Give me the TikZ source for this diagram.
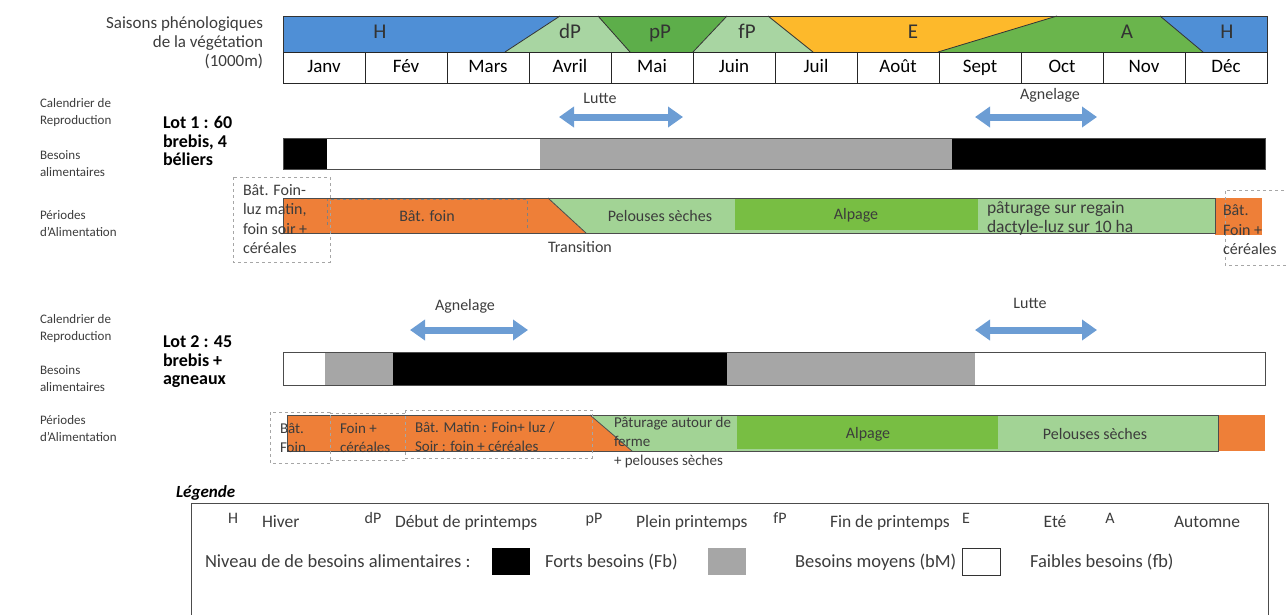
\documentclass[tikz,border=0pt]{standalone}
\usepackage{fontspec}
\setmainfont{Carlito}
\usetikzlibrary{positioning,arrows.meta}
\definecolor{hiver}{HTML}{4F8FD6}
\definecolor{printemps}{HTML}{A8D5A2}
\definecolor{pleinprint}{HTML}{5DAE4A}
\definecolor{ete}{HTML}{FDB92B}
\definecolor{automne}{HTML}{6AB54C}
\definecolor{moyens}{HTML}{A6A6A6}
\definecolor{foin}{HTML}{EE7F38}
\definecolor{pelouse}{HTML}{A2D395}
\definecolor{alpage}{HTML}{78BE43}
\definecolor{fleche}{HTML}{6C9DD4}
\definecolor{gristexte}{HTML}{3C3C3C}
\begin{document}
\begin{tikzpicture}[x=1pt, y=-1pt,
  every node/.style={inner sep=0pt, outer sep=0pt, text=gristexte},
  rowlabel/.style={font=\fontsize{13}{17}\selectfont, align=left, anchor=west},
  lotlabel/.style={font=\fontsize{18}{18.5}\selectfont\bfseries, align=left, anchor=west, text=black},
  month/.style={draw=black!85, line width=0.9pt, minimum width=82pt, minimum height=31pt,
    text height=13pt, text depth=4pt,
    font=\fontsize{19}{20}\selectfont, text=black, node distance=82pt},
  season/.style={font=\fontsize{21}{22}\selectfont, text=black!80, text height=14pt, text depth=4.5pt},
  sep/.style={draw=black!80, line width=0.8pt},
  need/.style={draw=black!70, line width=0.8pt},
  feedtext/.style={font=\fontsize{16}{19.5}\selectfont, align=left},
  smallfeed/.style={font=\fontsize{15}{19}\selectfont, align=left},
  dashbox/.style={draw=black!35, dashed, line width=0.6pt},
  period/.style={draw=fleche, line width=7pt, {Triangle[width=20pt,length=15pt]}-{Triangle[width=20pt,length=15pt]}},
  periodlabel/.style={font=\fontsize{16}{18}\selectfont},
  legtext/.style={font=\fontsize{17.5}{19}\selectfont, anchor=west, text height=12pt, text depth=4pt},
  levtext/.style={font=\fontsize{18.5}{20}\selectfont, anchor=west, text height=12.5pt, text depth=4pt},
  legsym/.style={font=\fontsize{16}{17}\selectfont, text height=11pt, text depth=3.5pt},
  legbox/.style={minimum width=38pt, minimum height=27pt, line width=0.9pt},
]
\useasboundingbox (0,0) rectangle (1287,614);

\fill[hiver] (283,16) -- (560,16) -- (505,52) -- (283,52) -- cycle;
\fill[printemps] (560,16) -- (598,16) -- (630,52) -- (505,52) -- cycle;
\fill[pleinprint] (598,16) -- (727,16) -- (693,52) -- (630,52) -- cycle;
\fill[printemps] (727,16) -- (768,16) -- (813,52) -- (693,52) -- cycle;
\fill[ete] (768,16) -- (1057,16) -- (938,52) -- (813,52) -- cycle;
\fill[automne] (1057,16) -- (1160,16) -- (1203,52) -- (938,52) -- cycle;
\fill[hiver] (1160,16) -- (1267,16) -- (1267,52) -- (1203,52) -- cycle;
\draw[sep] (505,52) -- (560,16) (598,16) -- (630,52) (727,16) -- (693,52)
  (768,16) -- (813,52) (938,52) -- (1057,16) (1160,16) -- (1203,52);
\draw[sep] (283,16) rectangle (1267,52);

\node[season] (sH1) at (380,34) {H};
\node[season] (sdP) at (570,34) {dP};
\node[season] (spP) at (660,34) {pP};
\node[season] (sfP) at (747,34) {fP};
\node[season] (sE) at (913,34) {E};
\node[season] (sA) at (1127,34) {A};
\node[season] (sH2) at (1227,34) {H};

\node[month] (janv) at (324,67.5) {Janv};
\node[month, right of=janv] (fev) {Fév};
\node[month, right of=fev] (mars) {Mars};
\node[month, right of=mars] (avril) {Avril};
\node[month, right of=avril] (mai) {Mai};
\node[month, right of=mai] (juin) {Juin};
\node[month, right of=juin] (juil) {Juil};
\node[month, right of=juil] (aout) {Août};
\node[month, right of=aout] (sept) {Sept};
\node[month, right of=sept] (oct) {Oct};
\node[month, right of=oct] (nov) {Nov};
\node[month, right of=nov] (dec) {Déc};

\node[font=\fontsize{17}{19}\selectfont, align=right, anchor=east] (titre) at (263,43)
  {Saisons phénologiques\\de la végétation\\(1000m)};

% lot 1
\node[rowlabel] (cal1) at (40,113) {Calendrier de\\Reproduction};
\node[rowlabel] (bes1) at (40,164) {Besoins\\alimentaires};
\node[rowlabel] (per1) at (40,224) {Périodes\\d'Alimentation};
\node[lotlabel] (lot1) at (163,141) {Lot 1 : 60\\brebis, 4\\béliers};

\coordinate (lutte1g) at (559,117);
\coordinate (lutte1d) at (683,117);
\coordinate (agnel1g) at (975,117);
\coordinate (agnel1d) at (1097,117);
\draw[period] (lutte1g) -- (lutte1d);
\draw[period] (agnel1g) -- (agnel1d);
\node[periodlabel] (lutte1) at (600,98) {Lutte};
\node[periodlabel] (agnel1) at (1050,95) {Agnelage};

\fill[black] (283,138) rectangle (327,169);
\fill[moyens] (540,138) rectangle (952,169);
\fill[black] (952,138) rectangle (1265,169);
\draw[need] (283,138) rectangle (1265,169);

\fill[foin] (283,198) -- (548,198) -- (586,233) -- (283,233) -- cycle;
\fill[pelouse] (548,198) -- (1215,198) -- (1215,233) -- (586,233) -- cycle;
\fill[alpage] (735,198) rectangle (978,230);
\fill[foin] (1215,198) rectangle (1262,235);
\draw[need] (283,198) rectangle (1215,233);
\draw[need] (548,198) -- (586,233);
\draw[dashbox] (233,177) rectangle (330,262);
\draw[dashbox, draw=black!50] (527,228) -- (527,199) -- (327,199) -- (327,228);
\draw[dashbox] (1290,190) -- (1225,190) -- (1225,265) -- (1290,265);

\node[feedtext, anchor=west] (batluz1) at (243,219) {Bât. Foin-\\luz matin,\\foin soir +\\céréales};
\node[feedtext] (batfoin1) at (427,216) {Bât. foin};
\node[feedtext] (trans1) at (580,247) {Transition};
\node[feedtext] (pelouses1) at (660,216) {Pelouses sèches};
\node[feedtext] (alpage1) at (856,215) {Alpage};
\node[feedtext, anchor=west, font=\fontsize{17.5}{19}\selectfont] (regain1) at (987,218) {pâturage sur regain\\dactyle-luz sur 10 ha};
\node[feedtext, anchor=west] (batcer1) at (1223,230) {Bât.\\Foin +\\céréales};

% lot 2
\node[rowlabel] (cal2) at (40,329) {Calendrier de\\Reproduction};
\node[rowlabel] (bes2) at (40,378.5) {Besoins\\alimentaires};
\node[rowlabel] (per2) at (40,428.5) {Périodes\\d'Alimentation};
\node[lotlabel] (lot2) at (163,362) {Lot 2 : 45\\brebis +\\agneaux};

\coordinate (agnel2g) at (410,330);
\coordinate (agnel2d) at (528,330);
\coordinate (lutte2g) at (975,330);
\coordinate (lutte2d) at (1097,330);
\draw[period] (agnel2g) -- (agnel2d);
\draw[period] (lutte2g) -- (lutte2d);
\node[periodlabel] (agnel2) at (465,306) {Agnelage};
\node[periodlabel] (lutte2) at (1030,303) {Lutte};

\fill[moyens] (325,352) rectangle (393,385);
\fill[black] (393,352) rectangle (727,385);
\fill[moyens] (727,352) rectangle (975,385);
\draw[need] (283,352) rectangle (1265,385);

\fill[foin] (287,415) -- (590,415) -- (632,451) -- (287,451) -- cycle;
\fill[pelouse] (590,415) -- (1218,415) -- (1218,451) -- (632,451) -- cycle;
\fill[alpage] (737,415) rectangle (998,449);
\fill[foin] (1218,415) rectangle (1265,451);
\draw[need] (287,415) rectangle (1218,451);
\draw[need] (590,415) -- (632,451);
\draw[dashbox] (270,412) rectangle (330,463);
\draw[dashbox] (330,413) -- (405,413) (330,460) -- (405,460);
\draw[dashbox] (405,410) rectangle (592,458);

\node[smallfeed, anchor=west] (batfoin2) at (280,437.5) {Bât.\\Foin};
\node[smallfeed, anchor=west] (foincer2) at (340,437.5) {Foin +\\céréales};
\node[smallfeed, anchor=west] (batmatin2) at (415,436.5) {Bât. Matin : Foin+ luz /\\Soir : foin + céréales};
\node[smallfeed, anchor=west] (paturage2) at (614,442.5) {Pâturage autour de\\ferme\\+ pelouses sèches};
\node[feedtext] (alpage2) at (868,434) {Alpage};
\node[feedtext] (pelouses2) at (1095,434) {Pelouses sèches};

% legende
\node[font=\fontsize{17}{19}\selectfont\bfseries\itshape, anchor=west, text=black] (legende) at (176,493) {Légende};
\draw[black!70, line width=0.9pt] (191,630) -- (191,503) -- (1268,503) -- (1268,630);

\node[legsym] (symH) at (233,520) {H};
\node[legtext] (txtH) at (262,523) {Hiver};
\node[legsym] (symdP) at (373,520) {dP};
\node[legtext] (txtdP) at (395,523) {Début de printemps};
\node[legsym] (sympP) at (594,520) {pP};
\node[legtext] (txtpP) at (636,523) {Plein printemps};
\node[legsym] (symfP) at (780,520) {fP};
\node[legtext] (txtfP) at (830,523) {Fin de printemps};
\node[legsym] (symE) at (966,520) {E};
\node[legtext, anchor=center] (txtE) at (1055,523) {Eté};
\node[legsym] (symA) at (1110,520) {A};
\node[legtext] (txtA) at (1174,523) {Automne};

\node[levtext] (niveau) at (205,563) {Niveau de de besoins alimentaires :};
\node[legbox, fill=black] (carreFb) at (511,561.5) {};
\node[levtext] (txtFb) at (545,563) {Forts besoins (Fb)};
\node[legbox, fill=moyens] (carrebM) at (727,561.5) {};
\node[levtext] (txtbM) at (795,563) {Besoins moyens (bM)};
\node[legbox, draw=black!80] (carrefb) at (981.5,561.5) {};
\node[levtext] (txtfb) at (1030,563) {Faibles besoins (fb)};
\end{tikzpicture}
\end{document}
